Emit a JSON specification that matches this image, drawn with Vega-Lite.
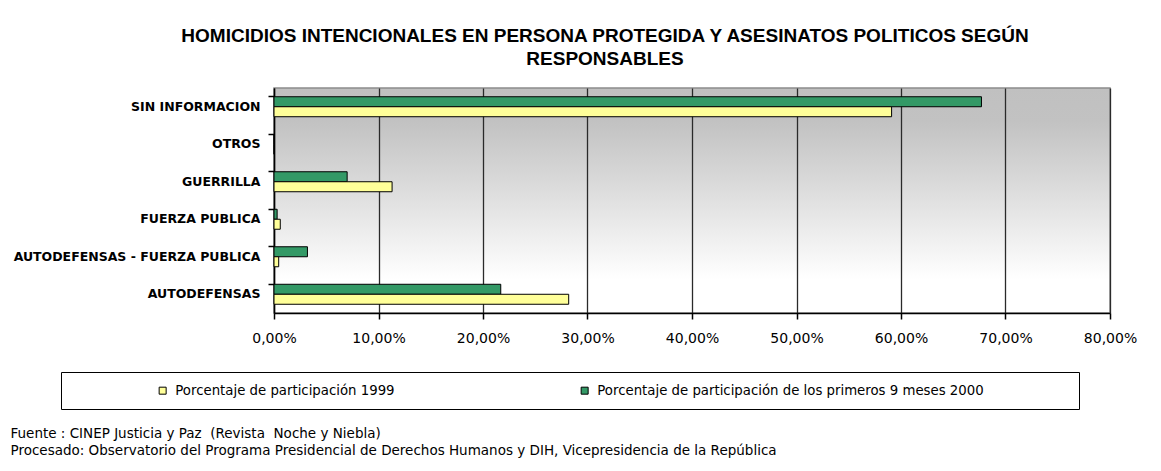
{
  "$schema": "https://vega.github.io/schema/vega-lite/v6.json",
  "autosize": "none",
  "width": 836,
  "height": 225,
  "padding": {"left": 274, "top": 88, "right": 51, "bottom": 158},
  "background": "white",
  "title": {
    "text": ["HOMICIDIOS INTENCIONALES EN PERSONA PROTEGIDA Y ASESINATOS POLITICOS SEGÚN", "RESPONSABLES"],
    "font": "Liberation Sans",
    "fontSize": 19,
    "fontWeight": "bold",
    "color": "#000000",
    "anchor": "middle",
    "frame": "group",
    "dx": -87,
    "offset": 19,
    "lineHeight": 23
  },
  "data": {
    "values": [
      {"responsable": "SIN INFORMACION", "serie": "Porcentaje de participación de los primeros 9 meses 2000", "valor": 0.677},
      {"responsable": "SIN INFORMACION", "serie": "Porcentaje de participación 1999", "valor": 0.591},
      {"responsable": "OTROS", "serie": "Porcentaje de participación de los primeros 9 meses 2000", "valor": 0},
      {"responsable": "OTROS", "serie": "Porcentaje de participación 1999", "valor": 0},
      {"responsable": "GUERRILLA", "serie": "Porcentaje de participación de los primeros 9 meses 2000", "valor": 0.070},
      {"responsable": "GUERRILLA", "serie": "Porcentaje de participación 1999", "valor": 0.113},
      {"responsable": "FUERZA PUBLICA", "serie": "Porcentaje de participación de los primeros 9 meses 2000", "valor": 0.003},
      {"responsable": "FUERZA PUBLICA", "serie": "Porcentaje de participación 1999", "valor": 0.006},
      {"responsable": "AUTODEFENSAS - FUERZA PUBLICA", "serie": "Porcentaje de participación de los primeros 9 meses 2000", "valor": 0.032},
      {"responsable": "AUTODEFENSAS - FUERZA PUBLICA", "serie": "Porcentaje de participación 1999", "valor": 0.0045},
      {"responsable": "AUTODEFENSAS", "serie": "Porcentaje de participación de los primeros 9 meses 2000", "valor": 0.217},
      {"responsable": "AUTODEFENSAS", "serie": "Porcentaje de participación 1999", "valor": 0.282}
    ]
  },
  "view": {
    "fill": {
      "gradient": "linear",
      "x1": 0, "y1": 0, "x2": 0, "y2": 1,
      "stops": [
        {"offset": 0, "color": "#c0c0c0"},
        {"offset": 0.15, "color": "#c2c2c2"},
        {"offset": 0.85, "color": "#ffffff"},
        {"offset": 1, "color": "#ffffff"}
      ]
    },
    "stroke": "#8c8c8c",
    "strokeWidth": 1.5
  },
  "mark": {"type": "bar", "stroke": "#000000", "strokeWidth": 1},
  "encoding": {
    "y": {
      "field": "responsable",
      "type": "nominal",
      "sort": ["SIN INFORMACION", "OTROS", "GUERRILLA", "FUERZA PUBLICA", "AUTODEFENSAS - FUERZA PUBLICA", "AUTODEFENSAS"],
      "scale": {"paddingInner": 0.467, "paddingOuter": 0.233},
      "axis": {
        "title": null,
        "labelFont": "DejaVu Sans",
        "labelFontSize": 12.5,
        "labelFontWeight": "bold",
        "labelColor": "#000000",
        "labelLimit": 400,
        "labelPadding": 8,
        "ticks": true,
        "tickSize": 6,
        "tickWidth": 1.5,
        "tickColor": "#000000",
        "bandPosition": 0,
        "domainColor": "#000000",
        "domainWidth": 1.5,
        "grid": false
      }
    },
    "yOffset": {
      "field": "serie",
      "type": "nominal",
      "sort": ["Porcentaje de participación de los primeros 9 meses 2000", "Porcentaje de participación 1999"],
      "scale": {"paddingInner": 0, "paddingOuter": 0}
    },
    "x": {
      "field": "valor",
      "type": "quantitative",
      "scale": {"domain": [0, 0.8], "nice": false, "zero": true},
      "axis": {
        "values": [0, 0.1, 0.2, 0.3, 0.4, 0.5, 0.6, 0.7, 0.8],
        "labelExpr": "replace(format(datum.value, '.2%'), '.', ',')",
        "labelFont": "DejaVu Sans",
        "labelFontSize": 14,
        "labelColor": "#000000",
        "labelPadding": 12,
        "labelFlush": false,
        "tickSize": 6,
        "tickWidth": 1.5,
        "tickColor": "#000000",
        "domainColor": "#000000",
        "domainWidth": 1.5,
        "grid": true,
        "gridColor": "#2a2a2a",
        "gridWidth": 1.3,
        "gridOpacity": 1,
        "title": ["Fuente : CINEP Justicia y Paz \u00a0(Revista \u00a0Noche y Niebla)", "Procesado: Observatorio del Programa Presidencial de Derechos Humanos y DIH, Vicepresidencia de la República"],
        "titleFont": "DejaVu Sans",
        "titleFontSize": 13.5,
        "titleFontWeight": "normal",
        "titleColor": "#000000",
        "titleAlign": "left",
        "titleAnchor": "start",
        "titleBaseline": "top",
        "titleX": -264,
        "titleY": 113,
        "titleLineHeight": 17
      }
    },
    "color": {
      "field": "serie",
      "type": "nominal",
      "scale": {
        "domain": ["Porcentaje de participación 1999", "Porcentaje de participación de los primeros 9 meses 2000"],
        "range": ["#ffff99", "#339966"]
      },
      "legend": {
        "orient": "none",
        "legendX": -213,
        "legendY": 284,
        "direction": "horizontal",
        "columns": 2,
        "columnPadding": 100,
        "padding": 12,
        "strokeColor": "#000000",
        "fillColor": "#ffffff",
        "symbolType": "square",
        "symbolSize": 49,
        "symbolStrokeColor": "#000000",
        "symbolStrokeWidth": 1,
        "symbolOffset": 83,
        "labelFont": "DejaVu Sans",
        "labelFontSize": 13.3,
        "labelColor": "#000000",
        "labelLimit": 600,
        "labelOffset": 6,
        "title": " ",
        "titleOrient": "right",
        "titlePadding": 83
      }
    }
  },
  "config": {
    "font": "DejaVu Sans"
  }
}
